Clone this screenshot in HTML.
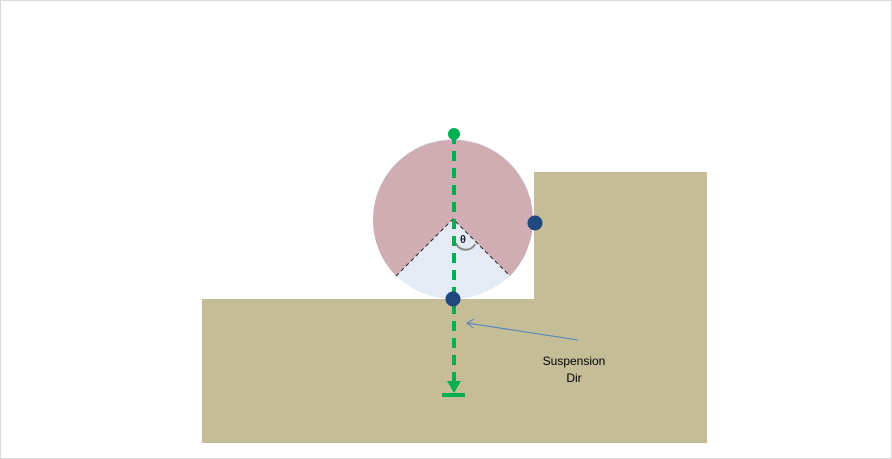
<!DOCTYPE html>
<html><head><style>
html,body{margin:0;padding:0;background:#fff;}
svg{display:block;font-family:"Liberation Sans",sans-serif;}
</style></head><body>
<svg width="892" height="459" viewBox="0 0 892 459">
<rect x="0.5" y="0.5" width="891" height="458" fill="#fff" stroke="#d9d9d9"/>
<path d="M202 299 H534 V172 H707 V443 H202 Z" fill="#c4bd97"/>
<circle cx="453" cy="219" r="80" fill="#e5ebf5"/>
<path d="M453 219 L396 276 A80 80 0 1 1 510 276 Z" fill="#cfadb3"/>
<path d="M396 276 L453 219 L510 276" fill="none" stroke="#222" stroke-width="1" stroke-dasharray="4,3"/>
<path d="M456 243 A10 9 0 0 0 475 244" fill="none" stroke="#888" stroke-width="2"/>
<text x="463" y="243" font-size="11" font-weight="bold" text-anchor="middle" fill="#222">θ</text>
<line x1="454" y1="134" x2="454" y2="382" stroke="#00b050" stroke-width="4" stroke-dasharray="10,7"/>
<path d="M447 381 L454 393 L461 381 Z" fill="#00b050"/>
<line x1="442" y1="395" x2="465" y2="395" stroke="#00b050" stroke-width="4"/>
<circle cx="454" cy="134" r="6" fill="#00b050"/>
<circle cx="453" cy="299" r="7.5" fill="#1f497d"/>
<circle cx="535" cy="223" r="7.5" fill="#1f497d"/>
<line x1="578" y1="340" x2="467" y2="323" stroke="#4f81bd" stroke-width="1"/>
<path d="M474 319 L467 323 L473 328" fill="none" stroke="#4f81bd" stroke-width="1"/>
<text x="574" y="365" font-size="12" text-anchor="middle" fill="#000">Suspension</text>
<text x="574" y="382" font-size="12" text-anchor="middle" fill="#000">Dir</text>
</svg>
</body></html>
